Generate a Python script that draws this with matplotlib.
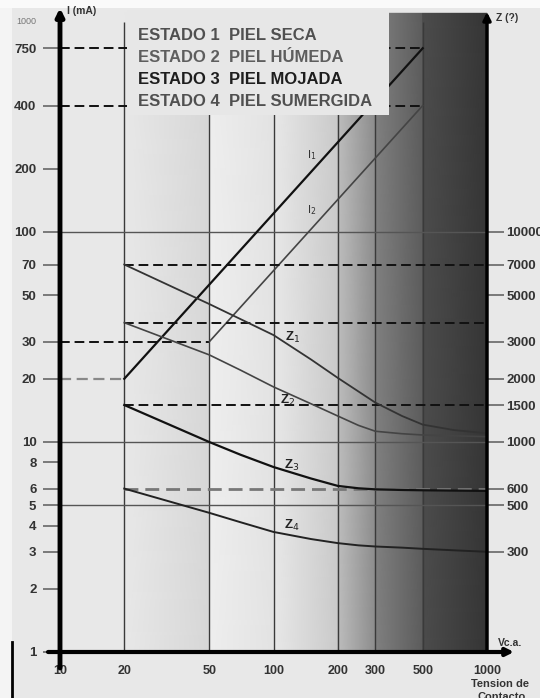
import matplotlib
matplotlib.use("Agg")
import matplotlib.pyplot as plt
from matplotlib.patches import Rectangle, FancyArrowPatch
from matplotlib.lines import Line2D
from matplotlib.ticker import NullLocator
import numpy as np

# Tension de contacto (V c.a.) en la que se leen las curvas de impedancia
volts = [20, 50, 70, 100, 150, 200, 250, 300, 400, 500, 700, 1000]
z1 = [7000, 4540, 3850, 3230, 2470, 2020, 1740, 1540, 1330, 1210, 1140, 1100]
z2 = [3700, 2600, 2200, 1830, 1520, 1330, 1200, 1125, 1095, 1080, 1070, 1060]
z3 = [1500, 1000, 870, 760, 670, 618, 602, 595, 591, 589, 587, 585]
z4 = [600, 460, 415, 373, 345, 330, 322, 318, 314, 310, 305, 300]

# Corriente (mA), rectas I1 e I2
i1_volts = [20, 500]
i1 = [20, 750]
i2_volts = [50, 500]
i2 = [30, 400]

estados = ["ESTADO 1  PIEL SECA", "ESTADO 2  PIEL HÚMEDA",
           "ESTADO 3  PIEL MOJADA", "ESTADO 4  PIEL SUMERGIDA"]

x_ticks = [10, 20, 50, 100, 200, 300, 500, 1000]
i_ticks = [1, 2, 3, 4, 5, 6, 8, 10, 20, 30, 50, 70, 100, 200, 400, 750]
z_ticks = [300, 500, 600, 1000, 1500, 2000, 3000, 5000, 7000, 10000]
i_ref = [5, 10, 100]

# fondo degradado por tramos (gris 0..1)
bg_edges = [20, 50, 100, 200, 300, 500, 1000]
bg_left = [0.91, 0.93, 0.91, 0.74, 0.50, 0.30]
bg_right = [0.84, 0.89, 0.79, 0.55, 0.36, 0.21]

plt.rcParams['font.family'] = ['Liberation Sans', 'DejaVu Sans']

W, H = 540, 698
fig = plt.figure(figsize=(W / 100, H / 100), dpi=100, facecolor='#e8e8e8')


def px(x, y):
    return (x / W, 1 - y / H)


# franjas claras del borde de la imagen
fig.add_artist(Rectangle((0, 0), 12 / W, 1, transform=fig.transFigure,
                         facecolor='#f4f4f4', edgecolor='none', zorder=-1))
fig.add_artist(Rectangle(px(0, 8), 1, 8 / H, transform=fig.transFigure,
                         facecolor='#fafafa', edgecolor='none', zorder=-1))

ax = fig.add_axes([60 / W, 46 / H, 427 / W, 630 / H])
ax.set_facecolor('none')
ax.set_xscale('log')
ax.set_yscale('log')
ax.set_xlim(10, 1000)
ax.set_ylim(1, 1000)

for k in range(len(bg_left)):
    X = [[bg_edges[k], bg_edges[k + 1]], [bg_edges[k], bg_edges[k + 1]]]
    Y = [[1, 1], [1100, 1100]]
    C = [[bg_left[k], bg_right[k]], [bg_left[k], bg_right[k]]]
    ax.pcolormesh(np.array(X), np.array(Y), np.array(C), cmap='gray',
                  vmin=0, vmax=1, shading='gouraud', zorder=0, clip_on=False)

# rejilla
ax.vlines(x_ticks[1:-1], 1, 1000, color='#3a3a3a', lw=1.0, zorder=1)
for v in i_ref:
    ax.axhline(v, color='#555555', lw=1.0, zorder=1)

dash = (0, (5, 2.5))
# guias de corriente
ax.hlines([i1[-1], i2[-1]], 10, i1_volts[-1], color='#111111', lw=1.4,
          linestyle=dash, zorder=2)
ax.hlines(i2[0], 10, i2_volts[0], color='#111111', lw=1.4, linestyle=dash, zorder=2)
ax.hlines(i1[0], 10, i1_volts[0], color='#888888', lw=1.6, linestyle=dash, zorder=2)

ax.plot(i1_volts, i1, color='#111111', lw=1.6, zorder=3)
ax.plot(i2_volts, i2, color='#444444', lw=1.2, zorder=3)
ax.text(151, 233, 'I$_1$', fontsize=8, color='#333333', ha='center', va='center')
ax.text(151, 127, 'I$_2$', fontsize=8, color='#333333', ha='center', va='center')

# ejes
ax.set_xticks(x_ticks, labels=[str(t) for t in x_ticks], fontweight='bold')
ax.set_yticks(i_ticks, labels=[str(t) for t in i_ticks], fontweight='bold')
ax.xaxis.set_minor_locator(NullLocator())
ax.yaxis.set_minor_locator(NullLocator())
ax.tick_params(axis='x', length=0, pad=9, labelsize=9, labelcolor='#333333')
ax.tick_params(axis='y', length=12, width=1.2, color='#666666', pad=5,
               labelsize=9.5, labelcolor='#333333')
for s in ax.spines.values():
    s.set_visible(False)

ax2 = ax.twinx()
ax2.set_yscale('log')
ax2.set_ylim(100, 100000)
for s in ax2.spines.values():
    s.set_visible(False)

# guias de impedancia
z_start = [z1[0], z2[0], z3[0]]
ax2.hlines(z_start, volts[0], 1000, color='#111111', lw=1.4, linestyle=dash, zorder=2)
ax2.hlines(z4[0], volts[0], 1000, color='#777777', lw=2.0, linestyle=dash, zorder=2)

ax2.plot(volts, z1, color='#333333', lw=1.3, zorder=3)
ax2.plot(volts, z2, color='#444444', lw=1.2, zorder=3)
ax2.plot(volts, z3, color='#111111', lw=1.6, zorder=3)
ax2.plot(volts, z4, color='#222222', lw=1.4, zorder=3)

zlab = dict(fontsize=9.5, fontweight='bold', color='#222222', ha='center', va='center')
ax2.text(123, 3160, 'Z$_1$', **zlab)
ax2.text(116, 1580, 'Z$_2$', **zlab)
ax2.text(122, 777, 'Z$_3$', **zlab)
ax2.text(122, 402, 'Z$_4$', **zlab)

ax2.set_yticks(z_ticks, labels=[str(t) for t in z_ticks], fontweight='bold')
ax2.yaxis.set_minor_locator(NullLocator())
ax2.tick_params(axis='y', length=12, width=1.2, color='#666666', pad=2,
                labelsize=9.5, labelcolor='#333333')

# lineas de eje con flecha
for a, b, lw in [((60, 668), (60, 8), 3.5), ((48, 652), (514, 652), 3.0),
                 ((487, 652), (487, 12), 2.5)]:
    fig.add_artist(FancyArrowPatch(px(*a), px(*b), transform=fig.transFigure,
                                   arrowstyle='-|>', mutation_scale=11, lw=lw,
                                   color='black', shrinkA=0, shrinkB=0, zorder=4))
fig.add_artist(Line2D([12 / W, 12 / W], [0, 1 - 642 / H], transform=fig.transFigure,
                      color='black', lw=2))

# recuadro de estados
fig.add_artist(Rectangle(px(127, 115), 262 / W, 105 / H, transform=fig.transFigure,
                         facecolor='#e7e7e7', edgecolor='none', zorder=5))
colores = ['#505050', '#5e5e5e', '#1e1e1e', '#505050']
for k, txt in enumerate(estados):
    fig.text(*px(138, [35, 58, 80, 102][k]), txt, fontsize=12, fontweight='bold',
             color=colores[k], ha='left', va='center', zorder=6)

fig.text(*px(26, 22), '1000', fontsize=6.5, color='#777777', ha='center', va='center')
fig.text(*px(67, 11), 'I (mA)', fontsize=7.5, fontweight='bold', color='#333333',
         ha='left', va='center')
fig.text(*px(496, 18), 'Z (?)', fontsize=7.5, fontweight='bold', color='#333333',
         ha='left', va='center')
fig.text(*px(498, 643), 'Vc.a.', fontsize=7.5, fontweight='bold', color='#333333',
         ha='left', va='center')
fig.text(*px(500, 684), 'Tension de', fontsize=8, fontweight='bold', color='#333333',
         ha='center', va='center')
fig.text(*px(502, 697), 'Contacto', fontsize=8, fontweight='bold', color='#333333',
         ha='center', va='center')

fig.savefig('out.png', dpi=100, facecolor=fig.get_facecolor())
